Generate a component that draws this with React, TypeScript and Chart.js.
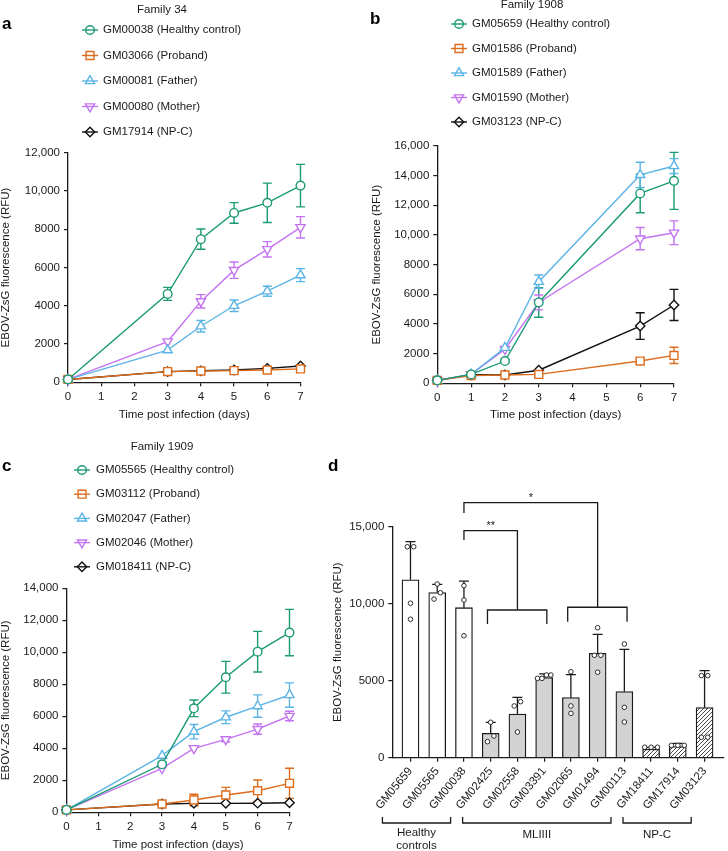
import React, { useEffect, useRef } from 'react';
import { Chart, registerables } from 'chart.js';
Chart.register(...registerables);

const FONT = "'Liberation Sans', Arial, Helvetica, sans-serif";
const INK = '#1a1a1a';
const FS = 11.5;

const GREEN = '#1b9a75';
const ORANGE = '#dd6c1c';
const BLUE = '#5db4e6';
const PURPLE = '#c374f0';
const BLACK = '#111111';
const COLORS = [GREEN, ORANGE, BLUE, PURPLE, BLACK];
const STYLES = ['circle', 'rect', 'triangle', 'triangleDown', 'rectRot'];
const RADII: Record<string, number> = { circle: 4.3, rect: 5.6, triangle: 5.3, triangleDown: 5.3, rectRot: 4.7 };

// ---------- Panel a : Family 34 ----------
const daysA = [0, 3, 4, 5, 6, 7];
const legendA = ['GM00038 (Healthy control)', 'GM03066 (Proband)', 'GM00081 (Father)', 'GM00080 (Mother)', 'GM17914 (NP-C)'];
const aHealthy = [150, 4620, 7480, 8850, 9380, 10280];
const aHealthyErr = [0, 340, 530, 540, 1030, 1110];
const aProband = [150, 560, 590, 610, 640, 700];
const aProbandErr = [0, 60, 60, 60, 60, 80];
const aFather = [150, 1680, 2930, 4000, 4760, 5600];
const aFatherErr = [0, 0, 300, 300, 260, 340];
const aMother = [150, 2130, 4230, 5860, 6950, 8100];
const aMotherErr = [0, 0, 350, 430, 400, 560];
const aNpc = [150, 560, 600, 640, 730, 850];
const aNpcErr = [0, 0, 0, 0, 0, 60];

// ---------- Panel b : Family 1908 ----------
const daysB = [0, 1, 2, 3, 6, 7];
const legendB = ['GM05659 (Healthy control)', 'GM01586 (Proband)', 'GM01589 (Father)', 'GM01590 (Mother)', 'GM03123 (NP-C)'];
const bHealthy = [200, 600, 1500, 5450, 12800, 13650];
const bHealthyErr = [0, 50, 100, 1000, 1300, 1920];
const bProband = [200, 520, 560, 600, 1500, 1880];
const bProbandErr = [0, 0, 0, 0, 200, 550];
const bFather = [200, 600, 2400, 6850, 14050, 14650];
const bFatherErr = [0, 0, 0, 450, 850, 500];
const bMother = [200, 600, 2300, 5450, 9750, 10150];
const bMotherErr = [0, 0, 0, 500, 750, 800];
const bNpc = [200, 580, 560, 880, 3860, 5280];
const bNpcErr = [0, 0, 0, 0, 900, 1050];

// ---------- Panel c : Family 1909 ----------
const daysC = [0, 3, 4, 5, 6, 7];
const legendC = ['GM05565 (Healthy control)', 'GM03112 (Proband)', 'GM02047 (Father)', 'GM02046 (Mother)', 'GM018411 (NP-C)'];
const cHealthy = [150, 3000, 6500, 8440, 10040, 11230];
const cHealthyErr = [0, 150, 520, 990, 1270, 1450];
const cProband = [150, 520, 770, 1080, 1350, 1810];
const cProbandErr = [0, 100, 360, 480, 670, 940];
const cFather = [150, 3540, 5040, 5940, 6640, 7330];
const cFatherErr = [0, 0, 450, 400, 700, 760];
const cMother = [150, 2750, 4000, 4560, 5200, 6020];
const cMotherErr = [0, 0, 0, 150, 320, 300];
const cNpc = [150, 520, 560, 560, 570, 600];
const cNpcErr = [0, 0, 0, 0, 0, 0];

// ---------- Panel d : bars ----------
const cellLines = ['GM05659', 'GM05565', 'GM00038', 'GM02425', 'GM02558', 'GM03391', 'GM02065', 'GM01494', 'GM00113', 'GM18411', 'GM17914', 'GM03123'];
const meanRFU = [11550, 10720, 9740, 1580, 2840, 5200, 3900, 6780, 4290, 550, 720, 3250];
const sdRFU = [2480, 540, 1730, 720, 1080, 240, 1490, 1230, 2750, 120, 210, 2400];
const replicates = [
  [13700, 13700, 10030, 8990],
  [11280, 10710, 10300],
  [11170, 10240, 7920],
  [2300, 1410, 1040],
  [3640, 3360, 1670],
  [5370, 5370, 5150, 5150],
  [5580, 3360, 2880],
  [8440, 6650, 6650, 5550],
  [7380, 3270, 2320],
  [680, 680, 680],
  [800, 800, 800],
  [5330, 5330, 1330, 1330],
];
const barKind = ['open', 'open', 'open', 'grey', 'grey', 'grey', 'grey', 'grey', 'grey', 'hatch', 'hatch', 'hatch'];
const groups = [
  { lines: ['Healthy', 'controls'], from: 0, to: 2 },
  { lines: ['MLIIII'], from: 3, to: 8 },
  { lines: ['NP-C'], from: 9, to: 11 },
];
const comparisons = [
  { label: '**', ref: 2, gFrom: 3, gTo: 5, stemLow: 14140, top: 14740, drop: 9590, legLow: 8680 },
  { label: '*', ref: 2, gFrom: 6, gTo: 8, stemLow: 15890, top: 16560, drop: 9770, legLow: 8830 },
];

const fmt = (v: number) => (v >= 10000 ? v.toLocaleString('en-US') : String(v));

function markerPath(ctx: CanvasRenderingContext2D, style: string, x: number, y: number, r: number) {
  ctx.beginPath();
  if (style === 'circle') ctx.arc(x, y, r, 0, Math.PI * 2);
  else if (style === 'rect') {
    const s = r * Math.SQRT1_2;
    ctx.rect(x - s, y - s, 2 * s, 2 * s);
  } else if (style === 'triangle' || style === 'triangleDown') {
    const d = style === 'triangle' ? 1 : -1;
    ctx.moveTo(x, y - d * r);
    ctx.lineTo(x + 0.866 * r, y + d * 0.5 * r);
    ctx.lineTo(x - 0.866 * r, y + d * 0.5 * r);
    ctx.closePath();
  } else {
    ctx.moveTo(x, y - r);
    ctx.lineTo(x + r, y);
    ctx.lineTo(x, y + r);
    ctx.lineTo(x - r, y);
    ctx.closePath();
  }
}

function drawLetter(ctx: CanvasRenderingContext2D, t: string, x: number, y: number) {
  ctx.save();
  ctx.font = `bold 17px ${FONT}`;
  ctx.fillStyle = '#000';
  ctx.textAlign = 'left';
  ctx.textBaseline = 'middle';
  ctx.fillText(t, x, y);
  ctx.restore();
}

type LinePanel = {
  width: number; height: number;
  days: number[]; labels: string[]; values: number[][]; errors: number[][];
  yMax: number; family: string; famX: number; famY: number;
  symX: number; textX: number; y0: number; dy: number;
  letter: string; letterX: number; letterY: number;
  area: { left: number; right: number; top: number; bottom: number };
  yTitlePad: number; xTitlePad: number;
};

function axisCommon() {
  return {
    grid: { display: true, drawOnChartArea: false, drawTicks: true, tickLength: 4, color: INK, lineWidth: 1.2 },
    border: { display: true, color: INK, width: 1.3 },
  };
}

function lineConfig(p: LinePanel): any {
  const datasets = p.values.map((vals, k) => ({
    label: p.labels[k],
    data: p.days.map((d, i) => ({ x: d, y: vals[i] })),
    borderColor: COLORS[k],
    borderWidth: 1.4,
    pointStyle: STYLES[k] === 'triangleDown' ? 'triangle' : STYLES[k],
    pointRotation: STYLES[k] === 'triangleDown' ? 180 : 0,
    pointRadius: RADII[STYLES[k]],
    pointBorderWidth: 1.4,
    pointBorderColor: COLORS[k],
    pointBackgroundColor: '#ffffff',
    clip: false,
    tension: 0,
    fill: false,
  }));
  const deco = {
    id: 'deco',
    beforeDatasetsDraw(chart: any) {
      const ctx = chart.ctx as CanvasRenderingContext2D;
      const xs = chart.scales.x, ys = chart.scales.y;
      ctx.save();
      ctx.lineWidth = 1.4;
      p.values.forEach((vals, k) => {
        ctx.strokeStyle = COLORS[k];
        vals.forEach((v, i) => {
          const e = p.errors[k][i];
          if (!e) return;
          const x = xs.getPixelForValue(p.days[i]);
          const y1 = ys.getPixelForValue(v + e);
          const y2 = ys.getPixelForValue(Math.max(0, v - e));
          ctx.beginPath();
          ctx.moveTo(x, y1); ctx.lineTo(x, y2);
          ctx.moveTo(x - 4.5, y1); ctx.lineTo(x + 4.5, y1);
          ctx.moveTo(x - 4.5, y2); ctx.lineTo(x + 4.5, y2);
          ctx.stroke();
        });
      });
      ctx.restore();
    },
    afterDraw(chart: any) {
      const ctx = chart.ctx as CanvasRenderingContext2D;
      ctx.save();
      ctx.font = `${FS}px ${FONT}`;
      ctx.fillStyle = INK;
      ctx.textBaseline = 'middle';
      ctx.textAlign = 'center';
      ctx.fillText(p.family, p.famX, p.famY);
      ctx.textAlign = 'left';
      p.labels.forEach((lab, k) => {
        const y = p.y0 + k * p.dy;
        ctx.strokeStyle = COLORS[k];
        ctx.lineWidth = 1.4;
        ctx.beginPath();
        ctx.moveTo(p.symX - 8, y); ctx.lineTo(p.symX + 8, y);
        ctx.stroke();
        markerPath(ctx, STYLES[k], p.symX, y, RADII[STYLES[k]]);
        ctx.stroke();
        ctx.fillStyle = INK;
        ctx.fillText(lab, p.textX, y);
      });
      ctx.restore();
      drawLetter(ctx, p.letter, p.letterX, p.letterY);
    },
  };
  const tickFont = { family: FONT, size: FS };
  const titleFont = { family: FONT, size: FS, lineHeight: 1 };
  return {
    type: 'line',
    data: { datasets },
    plugins: [deco],
    options: {
      responsive: false,
      animation: false,
      events: [],
      layout: { padding: { top: p.area.top, right: p.width - p.area.right, left: 0, bottom: 0 } },
      plugins: { legend: { display: false }, tooltip: { enabled: false } },
      scales: {
        x: {
          type: 'linear', min: 0, max: 7, offset: false,
          afterFit: (s: any) => { s.height = p.height - p.area.bottom; },
          ticks: { stepSize: 1, font: tickFont, color: INK, padding: 4, maxRotation: 0 },
          ...axisCommon(),
          title: { display: true, text: 'Time post infection (days)', font: titleFont, color: INK, padding: { top: 0, bottom: p.xTitlePad } },
        },
        y: {
          type: 'linear', min: 0, max: p.yMax,
          afterFit: (s: any) => { s.width = p.area.left; },
          ticks: { stepSize: 2000, font: tickFont, color: INK, padding: 4, callback: (v: any) => fmt(Number(v)) },
          ...axisCommon(),
          title: { display: true, text: 'EBOV-ZsG fluorescence (RFU)', font: titleFont, color: INK, padding: { top: p.yTitlePad, bottom: 0 } },
        },
      },
    },
  };
}

function makeHatch(): CanvasPattern | string {
  const pc = document.createElement('canvas');
  pc.width = 4; pc.height = 4;
  const g = pc.getContext('2d');
  if (!g) return '#ddd';
  g.fillStyle = '#ffffff';
  g.fillRect(0, 0, 4, 4);
  g.strokeStyle = '#333';
  g.lineWidth = 0.9;
  g.beginPath();
  g.moveTo(0, 4); g.lineTo(4, 0);
  g.moveTo(-1, 1); g.lineTo(1, -1);
  g.moveTo(3, 5); g.lineTo(5, 3);
  g.stroke();
  const pat = g.createPattern(pc, 'repeat');
  return pat || '#ddd';
}

function jitterPoints() {
  const pts: { x: number; y: number }[] = [];
  replicates.forEach((vals, i) => {
    const sorted = [...vals].sort((a, b) => a - b);
    let start = 0;
    while (start < sorted.length) {
      let end = start;
      while (end + 1 < sorted.length && sorted[end + 1] - sorted[start] <= 450) end++;
      const n = end - start + 1;
      const step = n > 1 ? Math.min(0.24, 0.5 / (n - 1)) : 0;
      for (let k = 0; k < n; k++) pts.push({ x: i + (k - (n - 1) / 2) * step, y: sorted[start + k] });
      start = end + 1;
    }
  });
  return pts;
}

const D = { width: 404, height: 431, left: 68.3, right: 403, top: 106.7, bottom: 337.7 };

function barConfig(): any {
  const hatch = makeHatch();
  const fills = barKind.map((k) => (k === 'open' ? '#ffffff' : k === 'grey' ? '#d3d3d3' : hatch));
  const deco = {
    id: 'barDeco',
    afterDatasetDraw(chart: any, args: any) {
      if (args.index !== 1) return;
      const ctx = chart.ctx as CanvasRenderingContext2D;
      const xs = chart.scales.x, ys = chart.scales.y;
      ctx.save();
      ctx.strokeStyle = INK;
      ctx.lineWidth = 1.3;
      meanRFU.forEach((m, i) => {
        const x = xs.getPixelForValue(i);
        const y1 = ys.getPixelForValue(m);
        const y2 = ys.getPixelForValue(m + sdRFU[i]);
        ctx.beginPath();
        ctx.moveTo(x, y1); ctx.lineTo(x, y2);
        ctx.moveTo(x - 5, y2); ctx.lineTo(x + 5, y2);
        ctx.stroke();
      });
      ctx.restore();
    },
    afterDraw(chart: any) {
      const ctx = chart.ctx as CanvasRenderingContext2D;
      const xs = chart.scales.x, ys = chart.scales.y;
      ctx.save();
      ctx.strokeStyle = INK;
      ctx.lineWidth = 1.3;
      comparisons.forEach((c) => {
        const xr = xs.getPixelForValue(c.ref);
        const gc = (c.gFrom + c.gTo) / 2;
        const xg = xs.getPixelForValue(gc);
        const yTop = ys.getPixelForValue(c.top);
        ctx.beginPath();
        ctx.moveTo(xr, ys.getPixelForValue(c.stemLow));
        ctx.lineTo(xr, yTop);
        ctx.lineTo(xg, yTop);
        ctx.lineTo(xg, ys.getPixelForValue(c.drop));
        const yd = ys.getPixelForValue(c.drop);
        const xa = xs.getPixelForValue(c.gFrom - 0.12);
        const xb = xs.getPixelForValue(c.gTo + 0.1);
        ctx.moveTo(xa, ys.getPixelForValue(c.legLow));
        ctx.lineTo(xa, yd);
        ctx.lineTo(xb, yd);
        ctx.lineTo(xb, ys.getPixelForValue(c.legLow));
        ctx.stroke();
        ctx.font = `11px ${FONT}`;
        ctx.fillStyle = INK;
        ctx.textAlign = 'center';
        ctx.textBaseline = 'alphabetic';
        ctx.fillText(c.label, (xr + xg) / 2, yTop - 1.5);
      });
      // group brackets
      const yb = 403;
      groups.forEach((g) => {
        const xa = xs.getPixelForValue(g.from - 1.05);
        const xb = xs.getPixelForValue(g.to - 0.5);
        ctx.beginPath();
        ctx.moveTo(xa, yb - 6); ctx.lineTo(xa, yb); ctx.lineTo(xb, yb); ctx.lineTo(xb, yb - 6);
        ctx.stroke();
        ctx.font = `${FS}px ${FONT}`;
        ctx.fillStyle = INK;
        ctx.textAlign = 'center';
        ctx.textBaseline = 'middle';
        const mid = (xa + xb) / 2;
        if (g.lines.length === 1) ctx.fillText(g.lines[0], mid, 415);
        else g.lines.forEach((l, j) => ctx.fillText(l, mid, 413 + j * 12.5));
      });
      ctx.restore();
      drawLetter(ctx, 'd', 4, 46.7);
    },
  };
  const tickFont = { family: FONT, size: FS };
  const titleFont = { family: FONT, size: FS, lineHeight: 1 };
  const pxPerUnit = 27.05;
  const xmin = -(410.7 - 392.3) / pxPerUnit;
  const xmax = xmin + (D.right - D.left) / pxPerUnit;
  return {
    type: 'bar',
    data: {
      datasets: [
        {
          type: 'scatter',
          data: jitterPoints(),
          pointRadius: 2.3,
          pointBorderWidth: 0.9,
          pointBorderColor: INK,
          pointBackgroundColor: '#ffffff',
          showLine: false,
          clip: false,
        },
        {
          type: 'bar',
          data: meanRFU.map((m, i) => ({ x: i, y: m })),
          backgroundColor: fills,
          borderColor: INK,
          borderWidth: 1.3,
          barThickness: 17,
        },
      ],
    },
    plugins: [deco],
    options: {
      responsive: false,
      animation: false,
      events: [],
      layout: { padding: { top: D.top, right: D.width - D.right, left: 0, bottom: 0 } },
      plugins: { legend: { display: false }, tooltip: { enabled: false } },
      scales: {
        x: {
          type: 'linear', min: xmin, max: xmax, offset: false,
          afterFit: (s: any) => { s.height = D.height - D.bottom; },
          afterBuildTicks: (s: any) => { s.ticks = cellLines.map((_, i) => ({ value: i })); },
          ticks: { autoSkip: false, minRotation: 50, maxRotation: 50, font: tickFont, color: INK, padding: 3, callback: (v: any) => cellLines[Number(v)] ?? '' },
          grid: { display: true, offset: false, drawOnChartArea: false, drawTicks: true, tickLength: 4, color: INK, lineWidth: 1.2 },
          border: { display: true, color: INK, width: 1.3 },
        },
        y: {
          type: 'linear', min: 0, max: 15000,
          afterFit: (s: any) => { s.width = D.left; },
          ticks: { stepSize: 5000, font: tickFont, color: INK, padding: 4, callback: (v: any) => fmt(Number(v)) },
          ...axisCommon(),
          title: { display: true, text: 'EBOV-ZsG fluorescence (RFU)', font: titleFont, color: INK, padding: { top: 8.2, bottom: 0 } },
        },
      },
    },
  };
}

function ChartBox({ left, top, width, height, build }: { left: number; top: number; width: number; height: number; build: () => any }) {
  const ref = useRef<HTMLCanvasElement>(null);
  useEffect(() => {
    if (!ref.current) return;
    const chart = new Chart(ref.current, build());
    return () => chart.destroy();
  }, []);
  return <canvas ref={ref} width={width} height={height} style={{ position: 'absolute', left, top, width, height }} />;
}

const panelA: LinePanel = {
  width: 364, height: 425, days: daysA, labels: legendA,
  values: [aHealthy, aProband, aFather, aMother, aNpc],
  errors: [aHealthyErr, aProbandErr, aFatherErr, aMotherErr, aNpcErr],
  yMax: 12000, family: 'Family 34', famX: 162, famY: 9.5,
  symX: 90, textX: 103, y0: 30, dy: 25.5,
  letter: 'a', letterX: 2, letterY: 24,
  area: { left: 68, right: 300.5, top: 152.7, bottom: 382.3 },
  yTitlePad: 0, xTitlePad: 4,
};
const panelB: LinePanel = {
  width: 364, height: 425, days: daysB, labels: legendB,
  values: [bHealthy, bProband, bFather, bMother, bNpc],
  errors: [bHealthyErr, bProbandErr, bFatherErr, bMotherErr, bNpcErr],
  yMax: 16000, family: 'Family 1908', famX: 168, famY: 5,
  symX: 95, textX: 108, y0: 24, dy: 24.5,
  letter: 'b', letterX: 6, letterY: 19,
  area: { left: 73.3, right: 310, top: 146, bottom: 383.3 },
  yTitlePad: 7, xTitlePad: 4,
};
const panelC: LinePanel = {
  width: 364, height: 426, days: daysC, labels: legendC,
  values: [cHealthy, cProband, cFather, cMother, cNpc],
  errors: [cHealthyErr, cProbandErr, cFatherErr, cMotherErr, cNpcErr],
  yMax: 14000, family: 'Family 1909', famX: 162, famY: 21.7,
  symX: 82, textX: 96, y0: 45, dy: 24.2,
  letter: 'c', letterX: 2, letterY: 41.7,
  area: { left: 66.5, right: 289.5, top: 163.3, bottom: 387.3 },
  yTitlePad: 0, xTitlePad: 0,
};

export default function App() {
  return (
    <div style={{ position: 'fixed', left: 0, top: 0, width: 728, height: 851, background: '#ffffff', overflow: 'hidden' }}>
      <ChartBox left={0} top={0} width={364} height={425} build={() => lineConfig(panelA)} />
      <ChartBox left={364} top={0} width={364} height={425} build={() => lineConfig(panelB)} />
      <ChartBox left={0} top={425} width={364} height={426} build={() => lineConfig(panelC)} />
      <ChartBox left={324} top={420} width={D.width} height={D.height} build={barConfig} />
    </div>
  );
}
